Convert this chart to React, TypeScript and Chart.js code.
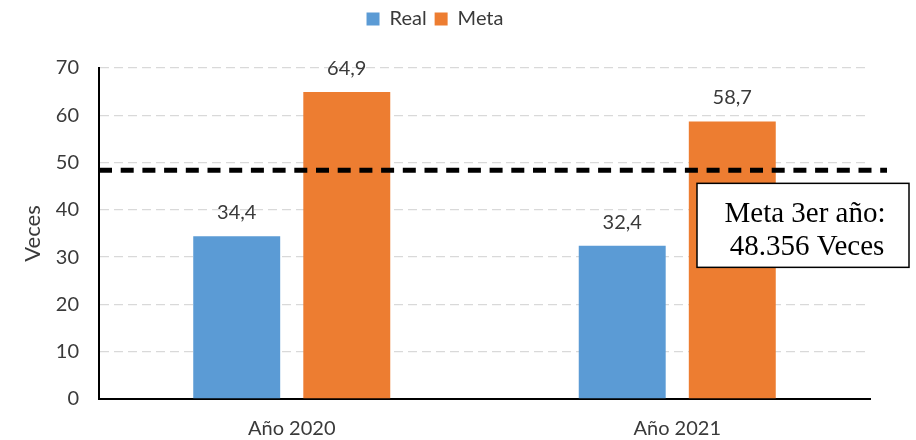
import React, { useEffect, useRef } from "react";
import { Chart, registerables } from "chart.js";

Chart.register(...registerables);

// Categories and series
const categories = ["Año 2020", "Año 2021"];
const realValues = [34.4, 32.4];
const metaValues = [64.9, 58.7];
const yTicks = [0, 10, 20, 30, 40, 50, 60, 70];

// Third-year target line
const thirdYearTarget = 48.356;
const targetLines = ["Meta 3er año:", "48.356 Veces"];

const BLUE = "#5B9BD5";
const ORANGE = "#ED7D31";
const TEXT = "#3a3a3a";

const fmt = (v: number) => v.toFixed(1).replace(".", ",");

// Value labels over each bar
const valueLabels = {
  id: "valueLabels",
  afterDatasetsDraw(chart: any) {
    const ctx = chart.ctx;
    ctx.save();
    ctx.font = "20px Lato";
    ctx.fillStyle = TEXT;
    ctx.textAlign = "center";
    ctx.textBaseline = "alphabetic";
    chart.data.datasets.forEach((ds: any, i: number) => {
      const meta = chart.getDatasetMeta(i);
      meta.data.forEach((bar: any, j: number) => {
        ctx.fillText(fmt(ds.data[j]), bar.x, bar.y - 17);
      });
    });
    ctx.restore();
  },
};

// Dashed target line with its note box
const targetLine = {
  id: "targetLine",
  afterDraw(chart: any) {
    const { ctx, chartArea } = chart;
    const y = chart.scales.y.getPixelForValue(thirdYearTarget);
    ctx.save();
    ctx.strokeStyle = "#000";
    ctx.lineWidth = 5;
    ctx.setLineDash([13, 8.7]);
    ctx.beginPath();
    ctx.moveTo(chartArea.left, y);
    ctx.lineTo(chartArea.right + 17, y);
    ctx.stroke();
    ctx.setLineDash([]);

    const bx = chartArea.right - 173;
    const by = y + 13;
    const bw = 212;
    const bh = 84;
    ctx.fillStyle = "#fff";
    ctx.fillRect(bx, by, bw, bh);
    ctx.lineWidth = 1.5;
    ctx.strokeStyle = "#000";
    ctx.strokeRect(bx, by, bw, bh);

    ctx.fillStyle = "#000";
    ctx.font = "29px 'Liberation Serif', 'Times New Roman', serif";
    ctx.textAlign = "center";
    ctx.textBaseline = "alphabetic";
    ctx.fillText(targetLines[0], bx + 108, by + 39);
    ctx.fillText(targetLines[1], bx + 110, by + 72);
    ctx.restore();
  },
};

export default function App() {
  const canvasRef = useRef<HTMLCanvasElement | null>(null);

  useEffect(() => {
    document.body.style.margin = "0";
    Chart.defaults.font.family = "Lato";
    Chart.defaults.font.size = 20;
    Chart.defaults.color = TEXT;

    const chart = new Chart(canvasRef.current as HTMLCanvasElement, {
      type: "bar",
      data: {
        labels: categories,
        datasets: [
          { label: "Real", data: realValues, backgroundColor: BLUE },
          { label: "Meta", data: metaValues, backgroundColor: ORANGE },
        ],
      },
      options: {
        responsive: false,
        animation: false,
        datasets: {
          bar: { categoryPercentage: 0.571, barPercentage: 0.79 },
        },
        layout: { padding: { left: 0, right: 46, top: 1, bottom: 0 } },
        plugins: {
          legend: {
            position: "top",
            labels: {
              boxWidth: 13,
              boxHeight: 13,
              padding: 8,
              color: TEXT,
              font: { size: 20 },
            },
          },
          // empty spacer between legend and plot
          subtitle: {
            display: true,
            text: "",
            position: "top",
            weight: 1,
            font: { size: 20 },
            padding: { top: 0, bottom: 5 },
          },
          tooltip: { enabled: false },
        },
        scales: {
          x: {
            grid: { display: false, drawTicks: false },
            border: { display: true, color: "#000", width: 2 },
            ticks: { padding: 18, color: TEXT },
            afterFit: (s: any) => {
              s.height = 41;
            },
          },
          y: {
            min: 0,
            max: 70,
            afterBuildTicks: (s: any) => {
              s.ticks = yTicks.map((v) => ({ value: v }));
            },
            grid: {
              drawTicks: false,
              color: (c: any) => (c.tick && c.tick.value === 0 ? "rgba(0,0,0,0)" : "#d9d9d9"),
              lineWidth: 1.3,
            },
            border: { display: true, color: "#000", width: 2, dash: [9, 5] },
            ticks: { padding: 20, color: TEXT },
            title: {
              display: true,
              text: "Veces",
              color: TEXT,
              font: { size: 22 },
              padding: { top: 20, bottom: 0 },
            },
            afterFit: (s: any) => {
              s.width = 99;
            },
          },
        },
      },
      plugins: [valueLabels, targetLine],
    });
    return () => chart.destroy();
  }, []);

  return (
    <div style={{ width: 916, height: 440 }}>
      <canvas ref={canvasRef} width={916} height={440} />
    </div>
  );
}
